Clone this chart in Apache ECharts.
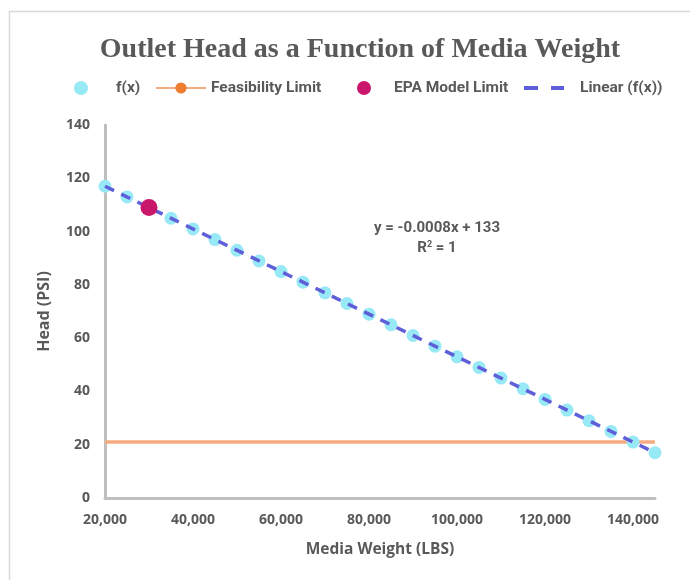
<!DOCTYPE html>
<html>
<head>
<meta charset="utf-8">
<script src="https://cdn.jsdelivr.net/npm/echarts@6/dist/echarts.min.js"></script>
<style>html,body{margin:0;padding:0;background:#fff}#c{width:690px;height:580px}</style>
</head>
<body>
<div id="c"></div>
<script>
// Data
const weights = [20000,25000,30000,35000,40000,45000,50000,55000,60000,65000,70000,75000,80000,85000,90000,95000,100000,105000,110000,115000,120000,125000,130000,135000,140000,145000];
const heads   = [117,113,109,105,101,97,93,89,85,81,77,73,69,65,61,57,53,49,45,41,37,33,29,25,21,17];
const feasibilityX = [20000,145000];
const feasibilityY = [21,21];
const epaX = [30000];
const epaY = [109];
const yTicks = [0,20,40,60,80,100,120,140];
const xRange = [20000,145000];

// least-squares trendline through f(x)
const n = weights.length;
const mx = weights.reduce((a,b)=>a+b,0)/n;
const my = heads.reduce((a,b)=>a+b,0)/n;
let sxy=0,sxx=0;
for(let i=0;i<n;i++){sxy+=(weights[i]-mx)*(heads[i]-my);sxx+=(weights[i]-mx)**2;}
const slope=sxy/sxx, icpt=my-slope*mx;
const trend = xRange.map(x=>[x, slope*x+icpt]);

const gray='#595959';
const trendColor='#5f5fd9';
const legText={fontFamily:'Roboto',fontWeight:'bold',fontSize:15.5,color:gray};
const chart = echarts.init(document.getElementById('c'));
chart.setOption({
  animation:false,
  title:{text:'Outlet Head as a Function of Media Weight',left:355,textAlign:'center',top:31,
    textStyle:{fontFamily:'Liberation Serif',fontWeight:'bold',fontSize:28,color:gray}},
  legend:[
    {top:75,left:69,itemWidth:60,itemHeight:14,textStyle:legText,data:['f(x)']},
    {top:75,left:150,itemWidth:50,itemHeight:14,textStyle:legText,data:['Feasibility Limit']},
    {top:75,left:352,itemWidth:50,itemHeight:14,textStyle:legText,data:['EPA Model Limit']},
    {top:75,left:519,itemWidth:40,itemHeight:14,textStyle:Object.assign({},legText,{padding:[0,0,0,11]}),
      data:[{name:'Linear (f(x))',icon:'path://M0,0h14v4h-14z M27,0h13v4h-13z',itemStyle:{color:trendColor}}]}
  ],
  grid:{left:105,right:35,top:125,bottom:82},
  xAxis:{type:'value',min:xRange[0],max:xRange[1],interval:20000,
    name:'Media Weight (LBS)',nameLocation:'middle',nameGap:44,
    nameTextStyle:{fontFamily:'Open Sans',fontWeight:'bold',fontSize:15.5,color:gray},
    axisLine:{lineStyle:{color:'#bfbfbf',width:3}},axisTick:{show:false},splitLine:{show:false},
    axisLabel:{showMaxLabel:false,margin:15,fontFamily:'Open Sans',fontWeight:'bold',fontSize:14,color:gray,
      formatter:v=>v.toString().replace(/\B(?=(\d{3})+(?!\d))/g,',')}},
  yAxis:{type:'value',min:yTicks[0],max:yTicks[yTicks.length-1],interval:20,
    name:'Head (PSI)',nameLocation:'middle',nameGap:53,nameRotate:90,
    nameTextStyle:{fontFamily:'Open Sans',fontWeight:'bold',fontSize:16,color:gray},
    axisLine:{show:true,lineStyle:{color:'#bfbfbf',width:3}},axisTick:{show:false},splitLine:{show:false},
    axisLabel:{margin:15,fontFamily:'Open Sans',fontWeight:'bold',fontSize:14,color:gray}},
  series:[
    {name:'f(x)',type:'scatter',symbol:'circle',symbolSize:13,z:2,
      itemStyle:{color:'#98e9f6',opacity:1},data:weights.map((x,i)=>[x,heads[i]])},
    {name:'Feasibility Limit',type:'line',symbol:'circle',symbolSize:10,z:1,
      itemStyle:{color:'#ed7d31'},lineStyle:{color:'#f5ab80',width:3.5},
      data:feasibilityX.map((x,i)=>({value:[x,feasibilityY[i]],symbol:'none'}))},
    {name:'Linear (f(x))',type:'line',symbol:'none',z:3,
      itemStyle:{color:trendColor},lineStyle:{color:trendColor,width:3.5,type:[10,8]},
      data:trend},
    {name:'EPA Model Limit',type:'scatter',symbol:'circle',symbolSize:17,z:4,
      itemStyle:{color:'#c9176c',opacity:1},data:epaX.map((x,i)=>[x,epaY[i]])}
  ],
  graphic:[
    {type:'rect',z:-1,shape:{x:9.5,y:11.5,width:720,height:600},style:{fill:'none',stroke:'#d9d9d9',lineWidth:1.5}},
    {type:'text',x:437,y:221,style:{text:'y = -0.0008x + 133',align:'center',fontFamily:'Roboto',fontWeight:'bold',fontSize:15,fill:gray}},
    {type:'text',x:437,y:240,style:{align:'center',rich:{a:{fontFamily:'Roboto',fontWeight:'bold',fontSize:15,fill:gray},s:{fontFamily:'Roboto',fontWeight:'bold',fontSize:9,fill:gray,verticalAlign:'top',padding:[0,0,7,0]}},text:'{a|R}{s|2}{a| = 1}'}}
  ]
});
</script>
</body>
</html>
